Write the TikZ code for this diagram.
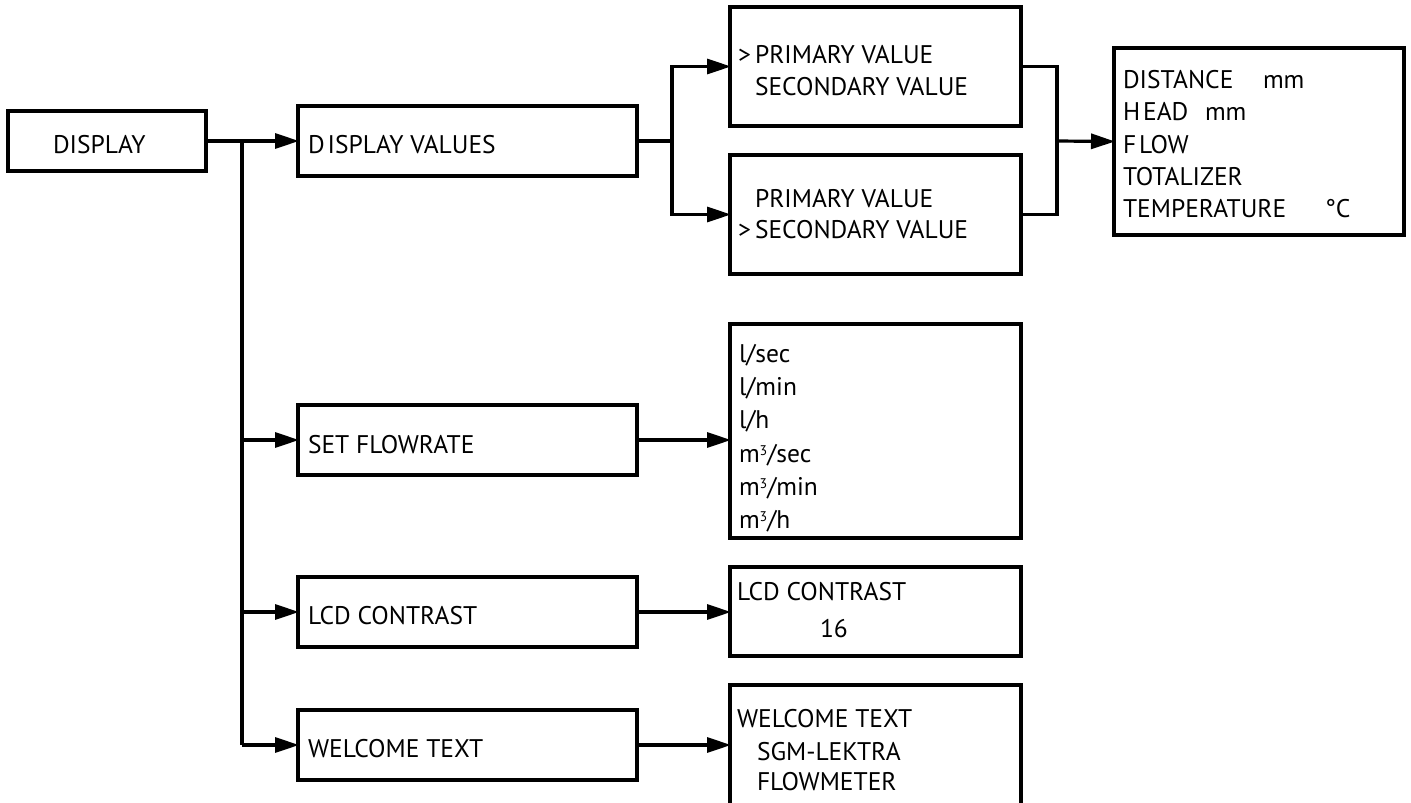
\documentclass[tikz,border=0pt]{standalone}
\usepackage{fontspec}
\setmainfont{PT Sans}
\usetikzlibrary{arrows.meta,calc}

\tikzset{
  box/.style={draw, line width=3.2pt, rectangle, inner sep=0pt, outer sep=0pt, anchor=north west},
  conn/.style={line width=3.2pt},
  arr/.style={conn, -{Triangle[length=24pt,width=15pt]}, shorten >=-1pt},
  lbl/.style={anchor=base west, inner sep=0pt, outer sep=0pt, font=\fontsize{25.5}{30}\selectfont},
}

\newcommand{\boxat}[5]{% name, x1, y1, x2, y2
  \node[box, minimum width={#4-#2}, minimum height={#5-#3}] (#1) at (#2,#3) {};}

\begin{document}
\begin{tikzpicture}[x=1pt,y=-1pt]
  \useasboundingbox (0,0) rectangle (1411,803);
  \clip (0,0) rectangle (1411,803);

  % left column
  \boxat{display}{8}{111}{206}{171}
  \boxat{dv}{298}{106}{637}{176}
  \boxat{sf}{298}{405}{637}{475}
  \boxat{lcd}{298}{577}{637}{647}
  \boxat{wt}{298}{710}{637}{780}

  % option boxes
  \boxat{pv}{730}{7}{1021}{126}
  \boxat{sv}{730}{155}{1021}{274}
  \boxat{units}{730}{324}{1021}{538}
  \boxat{lcdv}{730}{567}{1021}{656}
  \boxat{wtv}{730}{685}{1021}{840}
  \boxat{vals}{1114}{48}{1404}{235}

  % labels
  \node[lbl] (tdisp) at (53,153) {DISPLAY};
  \node[lbl] (tdv) at (308,153) {D\kern3pt ISPLAY VALUES};
  \node[lbl] (tsf) at (308,453) {SET FLOWRATE};
  \node[lbl] (tlcd) at (308,624) {LCD CONTRAST};
  \node[lbl] (twt) at (308,757) {WELCOME TEXT};

  \node[lbl] (pva) at (738,63) {>};
  \node[lbl] (pvb) at (755,63) {PRIMARY VALUE};
  \node[lbl] (pvc) at (755,95) {SECONDARY VALUE};
  \node[lbl] (sva) at (755,207) {PRIMARY VALUE};
  \node[lbl] (svb) at (738,238) {>};
  \node[lbl] (svc) at (755,238) {SECONDARY VALUE};

  \node[lbl] (v1) at (1123,88) {DISTANCE};
  \node[lbl] (v1u) at (1263,88) {mm};
  \node[lbl] (v2) at (1123,120) {H\kern3pt EAD};
  \node[lbl] (v2u) at (1205,120) {mm};
  \node[lbl] (v3) at (1123,153) {F\kern3pt LOW};
  \node[lbl] (v4) at (1123,185) {TOTALIZER};
  \node[lbl] (v5) at (1123,217) {TEMPERATURE};
  \node[lbl] (v5u) at (1325,217) {°C};

  \node[lbl] (u1) at (739,362) {l/sec};
  \node[lbl] (u2) at (739,395) {l/min};
  \node[lbl] (u3) at (739,428) {l/h};
  \node[lbl] (u4) at (739,462) {m\raisebox{0.5ex}{\fontsize{14}{14}\selectfont 3}/sec};
  \node[lbl] (u5) at (739,495) {m\raisebox{0.5ex}{\fontsize{14}{14}\selectfont 3}/min};
  \node[lbl] (u6) at (739,528) {m\raisebox{0.5ex}{\fontsize{14}{14}\selectfont 3}/h};

  \node[lbl] (c1) at (737,600) {LCD CONTRAST};
  \node[lbl] (c2) at (820,637) {16};

  \node[lbl] (w1) at (737,727) {WELCOME TEXT};
  \node[lbl] (w2) at (757,760) {SGM-LEKTRA};
  \node[lbl] (w3) at (757,790) {FLOWMETER};

  % connectors from DISPLAY
  \coordinate (trunk) at (242,141);
  \draw[arr] (display.east) -- (dv.west);
  \draw[conn] (trunk) -- (trunk |- wt.west);
  \draw[arr] (trunk |- sf.west) -- (sf.west);
  \draw[arr] (trunk |- lcd.west) -- (lcd.west);
  \draw[arr] (trunk |- wt.west) -- (wt.west);

  % DISPLAY VALUES fork and join
  \coordinate (fork) at (672,141);
  \draw[conn] (dv.east) -- (fork);
  \draw[arr] (fork) |- (pv.west);
  \draw[arr] (fork) |- (sv.west);
  \coordinate (join) at (1057,141);
  \draw[conn] (pv.east) -| (join);
  \draw[conn] (sv.east) -| (join);
  \draw[arr] (join) -- (vals.west);

  % other submenus
  \draw[arr] (sf.east) -- (sf.east -| units.west);
  \draw[arr] (lcd.east) -- (lcd.east -| lcdv.west);
  \draw[arr] (wt.east) -- (wt.east -| wtv.west);
\end{tikzpicture}
\end{document}
